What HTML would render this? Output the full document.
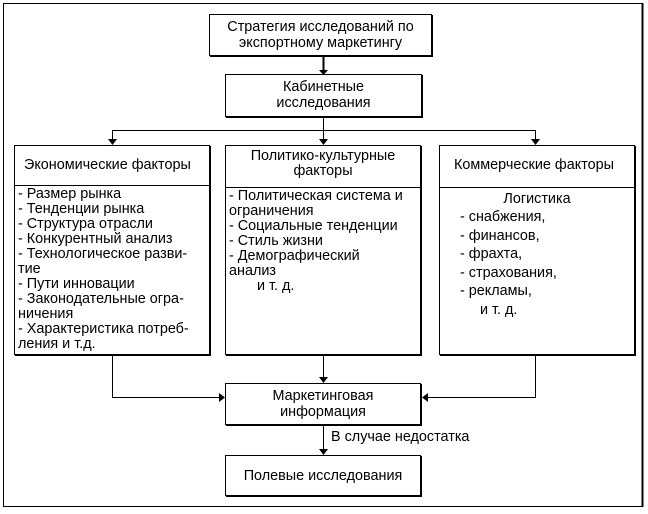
<!DOCTYPE html>
<html><head><meta charset="utf-8"><style>
body{margin:0;width:648px;height:514px;background:#fff;position:relative;overflow:hidden;font-family:"Liberation Sans",Arial,sans-serif;font-size:14.4px;color:#000}
.b{position:absolute;border:1px solid #000;box-shadow:1px 1px 0 #000;box-sizing:border-box;background:#fff}
.c{text-align:center;line-height:16px}
.t{position:absolute;white-space:nowrap;line-height:15px}
.d{position:absolute;left:0;right:0;border-top:1px solid #000}
svg{position:absolute;left:0;top:0}
</style></head><body>
<svg width="648" height="514">
<rect x="3.5" y="3.5" width="639" height="503" fill="none" stroke="#000"/>
<line x1="642.5" y1="3" x2="642.5" y2="507" stroke="#000" stroke-width="2"/>
<g stroke="#000" stroke-width="1" fill="none">
<line x1="323.5" y1="56" x2="323.5" y2="70" stroke-width="2"/>
<line x1="323.5" y1="117" x2="323.5" y2="130"/>
<line x1="112.5" y1="130.5" x2="535.5" y2="130.5"/>
<line x1="112.5" y1="130" x2="112.5" y2="140"/>
<line x1="323.5" y1="130" x2="323.5" y2="140"/>
<line x1="535.5" y1="130" x2="535.5" y2="140"/>
<line x1="112.5" y1="355" x2="112.5" y2="397.5"/>
<line x1="112" y1="397.5" x2="220" y2="397.5"/>
<line x1="535.5" y1="355" x2="535.5" y2="397.5"/>
<line x1="536" y1="397.5" x2="427" y2="397.5"/>
<line x1="323.5" y1="355" x2="323.5" y2="378"/>
<line x1="323.5" y1="425" x2="323.5" y2="450"/>
</g>
<g fill="#000">
<polygon points="319,70 328,70 323.5,75"/>
<polygon points="108,139 117,139 112.5,145"/>
<polygon points="319,139 328,139 323.5,145"/>
<polygon points="531,139 540,139 535.5,145"/>
<polygon points="319,377 328,377 323.5,383"/>
<polygon points="319,449 328,449 323.5,455"/>
<polygon points="219,393 219,402 225,397.5"/>
<polygon points="428,393 428,402 422,397.5"/>
</g>
</svg>
<div class="b c" style="left:209px;top:14px;width:223px;height:42px;padding-top:4px">Стратегия исследований по<br>экспортному маркетингу</div>
<div class="b c" style="left:225px;top:74px;width:197px;height:43px;padding-top:4px">Кабинетные<br>исследования</div>

<div class="b" style="left:14px;top:145px;width:196px;height:210px">
<div class="t" style="left:9px;top:12px">Экономические факторы</div>
<div class="d" style="top:39px"></div>
<div class="t" style="left:3px;top:41px">- Размер рынка<br>- Тенденции рынка<br>- Структура отрасли<br>- Конкурентный анализ<br>- Технологическое разви-<br>тие<br>- Пути инновации<br>- Законодательные огра-<br>ничения<br>- Характеристика потреб-<br>ления и т.д.</div>
</div>

<div class="b" style="left:225px;top:145px;width:196px;height:210px">
<div class="t c" style="left:0;right:0;top:3px">Политико-культурные<br>факторы</div>
<div class="d" style="top:41px"></div>
<div class="t" style="left:3px;top:43px">- Политическая система и<br>ограничения<br>- Социальные тенденции<br>- Стиль жизни<br>- Демографический<br>анализ<br>&nbsp;&nbsp;&nbsp;&nbsp;&nbsp;&nbsp;&nbsp;и т. д.</div>
</div>

<div class="b" style="left:439px;top:145px;width:196px;height:210px">
<div class="t" style="left:14px;top:12px">Коммерческие факторы</div>
<div class="d" style="top:41px"></div>
<div class="t" style="left:0;right:0;top:45px;text-align:center;line-height:16px">Логистика</div>
<div class="t" style="left:20px;top:62px;line-height:18.5px">- снабжения,<br>- финансов,<br>- фрахта,<br>- страхования,<br>- рекламы,<br>&nbsp;&nbsp;&nbsp;&nbsp;&nbsp;и т. д.</div>
</div>

<div class="b c" style="left:225px;top:383px;width:196px;height:42px;padding-top:4px">Маркетинговая<br>информация</div>
<div class="t" style="left:331px;top:430px">В случае недостатка</div>
<div class="b c" style="left:225px;top:455px;width:196px;height:41px;padding-top:12px">Полевые исследования</div>
</body></html>
